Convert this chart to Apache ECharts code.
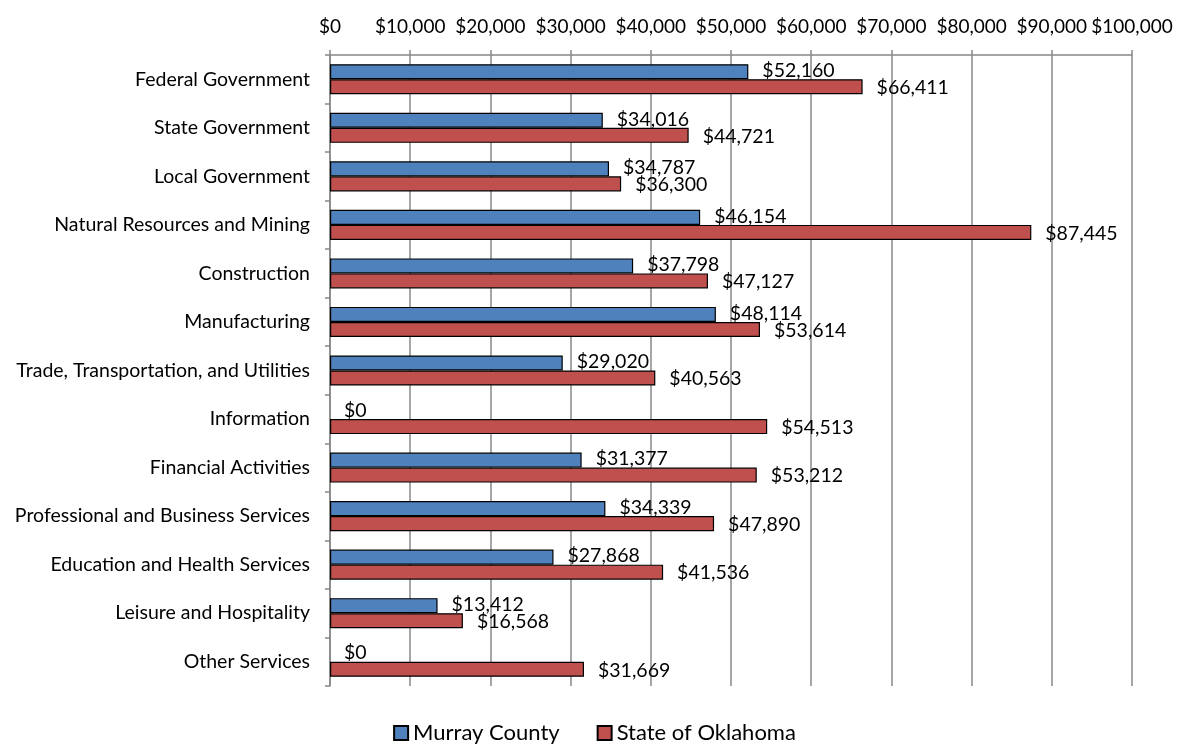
<!DOCTYPE html>
<html>
<head>
<meta charset="utf-8">
<script src="https://cdn.jsdelivr.net/npm/echarts@6/dist/echarts.min.js"></script>
<style>
  html, body { margin: 0; padding: 0; background: #fff; }
  #chart { width: 1189px; height: 749px; }
</style>
</head>
<body>
<div id="chart"></div>
<script>
var categories = [
    'Federal Government', 'State Government', 'Local Government',
    'Natural Resources and Mining', 'Construction', 'Manufacturing',
    'Trade, Transportation, and Utilities', 'Information', 'Financial Activities',
    'Professional and Business Services', 'Education and Health Services',
    'Leisure and Hospitality', 'Other Services'
];
var murrayCounty = [52160, 34016, 34787, 46154, 37798, 48114, 29020, 0, 31377, 34339, 27868, 13412, 0];
var stateOfOklahoma = [66411, 44721, 36300, 87445, 47127, 53614, 40563, 54513, 53212, 47890, 41536, 16568, 31669];

var fontFamily = 'Lato, "Open Sans", sans-serif';

function money(v) {
    return '$' + Number(v).toLocaleString('en-US');
}

// zero-length bars get no outline (nothing is drawn there in the original)
function barData(values) {
    return values.map(function (v) {
        return v === 0 ? { value: v, itemStyle: { borderWidth: 0 } } : v;
    });
}

var chart = echarts.init(document.getElementById('chart'));

var option = {
    animation: false,
    textStyle: { fontFamily: fontFamily },
    legend: {
        bottom: 0,
        left: 'center',
        itemWidth: 14,
        itemHeight: 14,
        itemGap: 37,
        icon: 'rect',
        textStyle: { fontSize: 22, color: '#000', fontFamily: fontFamily },
        data: ['Murray County', 'State of Oklahoma']
    },
    grid: {
        left: 330,
        right: 57,
        top: 55,
        bottom: 63
    },
    xAxis: {
        type: 'value',
        position: 'top',
        min: 0,
        max: 100000,
        interval: 10000,
        axisLine: { show: true, lineStyle: { color: '#888', width: 1.5 } },
        axisTick: { show: true, length: 5, lineStyle: { color: '#888', width: 1.5 } },
        splitLine: { show: true, lineStyle: { color: '#888', width: 1.5 } },
        axisLabel: {
            color: '#000',
            fontSize: 19,
            margin: 19,
            fontFamily: fontFamily,
            showMinLabel: true,
            showMaxLabel: true,
            hideOverlap: false,
            formatter: function (v) { return money(v); }
        }
    },
    yAxis: {
        type: 'category',
        inverse: true,
        data: categories,
        axisLine: { show: true, lineStyle: { color: '#888', width: 1.5 } },
        axisTick: { show: true, length: 5, lineStyle: { color: '#888', width: 1.5 } },
        axisLabel: {
            color: '#000',
            fontSize: 19.5,
            margin: 20,
            fontFamily: fontFamily
        }
    },
    series: [
        {
            name: 'Murray County',
            type: 'bar',
            data: barData(murrayCounty),
            barGap: '0%',
            barCategoryGap: '38%',
            itemStyle: { color: '#4F81BD', borderColor: '#000', borderWidth: 1.2 },
            label: {
                show: true,
                position: 'right',
                distance: 14,
                offset: [0, -1],
                color: '#000',
                fontSize: 19.5,
                fontFamily: fontFamily,
                formatter: function (p) { return money(p.value); }
            }
        },
        {
            name: 'State of Oklahoma',
            type: 'bar',
            data: barData(stateOfOklahoma),
            itemStyle: { color: '#C0504D', borderColor: '#000', borderWidth: 1.2 },
            label: {
                show: true,
                position: 'right',
                distance: 14,
                offset: [0, 1],
                color: '#000',
                fontSize: 19.5,
                fontFamily: fontFamily,
                formatter: function (p) { return money(p.value); }
            }
        }
    ]
};

chart.setOption(option);
</script>
</body>
</html>
